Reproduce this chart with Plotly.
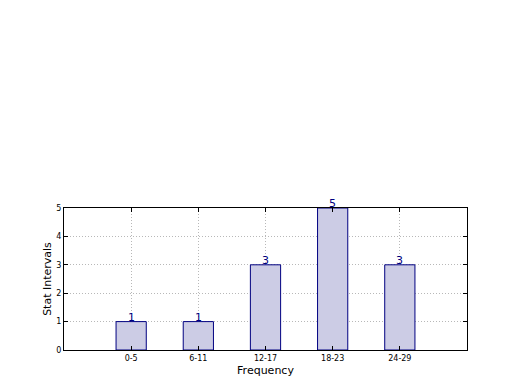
import plotly.graph_objects as go

categories = ["0-5", "6-11", "12-17", "18-23", "24-29"]
values = [1, 1, 3, 5, 3]
y_ticks = [0, 1, 2, 3, 4, 5]

fig = go.Figure()
fig.add_trace(go.Bar(
    x=categories, y=values, width=0.45,
    marker=dict(color="#ccccE5", line=dict(color="#000080", width=1)),
    hoverinfo="skip",
))
for c, v in zip(categories, values):
    fig.add_annotation(x=c, y=v, text=str(v), showarrow=False, yanchor="bottom",
                       yshift=-4, font=dict(family="DejaVu Sans", size=11, color="#000080"))

axis_common = dict(
    showline=True, linecolor="black", linewidth=1, mirror="allticks",
    ticks="inside", ticklen=4, tickcolor="black",
    showgrid=True, gridcolor="#b8b8b8", griddash="1px,2px", gridwidth=1,
    zeroline=False, tickfont=dict(family="DejaVu Sans", size=8, color="black"),
)
fig.update_xaxes(type="category", range=[-1, 5],
                 title=dict(text="Frequency", font=dict(family="DejaVu Sans", size=11, color="black"), standoff=4),
                 **axis_common)
fig.update_yaxes(range=[0, 5], tickvals=y_ticks,
                 title=dict(text="Stat Intervals", font=dict(family="DejaVu Sans", size=11, color="black"), standoff=2),
                 **axis_common)
fig.update_layout(
    width=520, height=390, showlegend=False,
    margin=dict(l=56, r=61, t=200, b=48),
    paper_bgcolor="white", plot_bgcolor="white",
    font=dict(family="DejaVu Sans"),
)
fig.write_html("out.html")
